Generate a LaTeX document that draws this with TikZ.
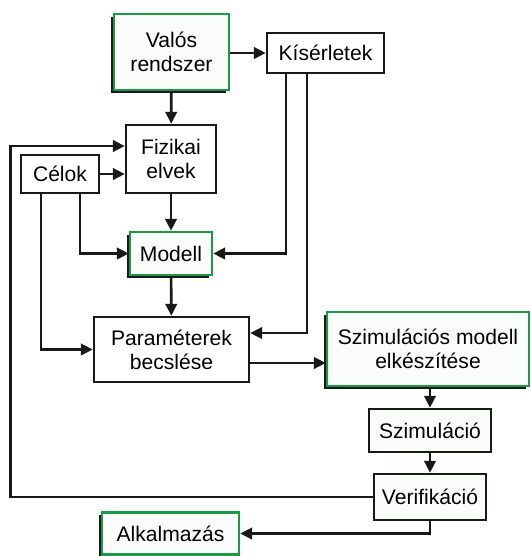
\documentclass[tikz,border=0pt]{standalone}
\usepackage{fontspec}
\setmainfont{Liberation Sans}
\usepackage{tikz}
\usetikzlibrary{arrows.meta,positioning,calc,shadows}
\definecolor{keret}{HTML}{1A9A48}
\definecolor{halvany}{HTML}{F9FCF9}

\begin{document}
\begin{tikzpicture}[
  x=0.02cm,y=-0.02cm,
  blk/.style={draw=black!90,line width=1.4pt,fill=white,inner sep=1pt,
              align=center,font=\fontsize{12}{13.5}\selectfont},
  grn/.style={blk,draw=keret,fill=halvany,
              drop shadow={shadow xshift=-1.6pt,shadow yshift=-1.6pt,
                           fill=black!90,opacity=1}},
  arr/.style={-{Triangle[length=0.24cm,width=0.23cm]},line width=1.5pt,black!90},
  lin/.style={line width=1.5pt,black!90}
]
\useasboundingbox (0,0) rectangle (531,556);

\node[grn,minimum width=2.3cm,minimum height=1.52cm] (valos) at (171.5,52) {Valós\\rendszer};
\node[blk,minimum width=2.34cm,minimum height=0.8cm] (kiserl) at (325.5,53) {Kísérletek};
\node[blk,minimum width=1.8cm,minimum height=1.36cm] (fizikai) at (171,159) {Fizikai\\elvek};
\node[blk,minimum width=1.56cm,minimum height=0.76cm] (celok) at (60,174) {Célok};
\node[grn,minimum width=1.64cm,minimum height=0.86cm] (modell) at (171,253.5) {Modell};
\node[blk,minimum width=3.1cm,minimum height=1.3cm] (param) at (171.5,349.5) {Paraméterek\\becslése};
\node[grn,minimum width=4.04cm,minimum height=1.48cm] (szimmod) at (428,349) {Szimulációs modell\\elkészítése};
\node[blk,fill=halvany,minimum width=2.44cm,minimum height=0.86cm] (szim) at (430,430.5) {Szimuláció};
\node[blk,fill=halvany,minimum width=2.24cm,minimum height=0.92cm] (verif) at (430,497) {Verifikáció};
\node[grn,minimum width=2.74cm,minimum height=0.84cm] (alk) at (170.5,533.5) {Alkalmazás};

\draw[arr] (valos.east |- kiserl.west) -- (kiserl.west);
\draw[arr] (valos) -- (fizikai);
\draw[arr] (celok.east) -- (celok.east -| fizikai.west);
\draw[arr] (fizikai) -- (modell);
\draw[arr] ([xshift=0.4cm]celok.south) |- (modell.west);
\draw[arr] ([xshift=-0.79cm]kiserl.south) |- (modell.east);
\draw[arr] ([xshift=-0.38cm]celok.south) |- (param.west);
\draw[arr] ([xshift=-0.37cm]kiserl.south) |- ([yshift=0.33cm]param.east);
\draw[arr] (modell) -- (param);
\draw[arr] ([yshift=-0.27cm]param.east) -- ([yshift=-0.27cm]param.east -| szimmod.west);
\draw[arr] (szim.north |- szimmod.south) -- (szim.north);
\draw[arr] (szim) -- (verif);
% visszacsatolas
\draw[arr] (verif.west) -- ++(-362,0) |- ([yshift=0.26cm]fizikai.west);
\draw[arr] (verif.south) |- (alk.east);
\end{tikzpicture}
\end{document}
